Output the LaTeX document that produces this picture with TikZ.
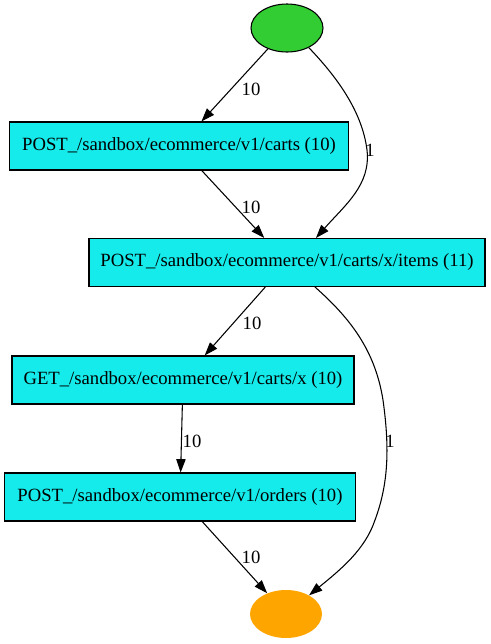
\documentclass[tikz,border=0pt]{standalone}
\usepackage{fontspec}
\setmainfont{Liberation Serif}
\usetikzlibrary{arrows.meta,positioning,calc,shapes.geometric}
\definecolor{FlowStart}{HTML}{32CD32}
\definecolor{FlowEnd}{HTML}{FFA500}
\definecolor{FlowBox}{HTML}{15EBEB}

\begin{document}
\begin{tikzpicture}[x=0.75pt,y=-0.75pt,>={Triangle[length=10pt,width=7pt]},
  font=\fontsize{14}{16}\selectfont,
  opbox/.style={draw=black,fill=FlowBox,line width=0.8pt,minimum height=36pt,inner sep=0pt},
  endpoint/.style={ellipse,minimum width=54pt,minimum height=36pt,inner sep=0pt},
  flow/.style={->,line width=0.8pt},
  count/.style={inner sep=1pt}]
  \useasboundingbox (0,0) rectangle (491,644);
  % Start and end.
  \node[endpoint,draw=black,fill=FlowStart,line width=0.8pt] (start) at (287,28) {};
  \node[endpoint,fill=FlowEnd] (finish) at (286,614) {};
  % Requests.
  \node[opbox,minimum width=254pt] (carts) at (179,146)
        {POST\_/sandbox/ecommerce/v1/carts (10)};
  \node[opbox,minimum width=297pt] (items) at (287,262.5)
        {POST\_/sandbox/ecommerce/v1/carts/x/items (11)};
  \node[opbox,minimum width=256.5pt] (getcart) at (183,380)
        {GET\_/sandbox/ecommerce/v1/carts/x (10)};
  \node[opbox,minimum width=263pt] (orders) at (180,497)
        {POST\_/sandbox/ecommerce/v1/orders (10)};
  % Straight transitions.
  \draw[flow] (start) -- (carts);
  \draw[flow] (carts) -- (items);
  \draw[flow] (items) -- (getcart);
  \draw[flow] (getcart) -- (orders);
  \draw[flow] (orders) -- (finish);
  % Curved transitions.
  \draw[flow] (start.-42) .. controls (335,75) and (362,110) .. (367,150)
        .. controls (371,185) and (345,205) .. ($(items.north)+(29,0)$);
  \draw[flow] ($(items.south)+(28,0)$) .. controls (350,318) and (375,350) .. (383,400)
        .. controls (390,450) and (388,485) .. (375,520)
        .. controls (365,550) and (340,570) .. (finish.39);
  % Counts.
  \node[count] (c1) at (251,89) {10};
  \node[count] (c2) at (370,150) {1};
  \node[count] (c3) at (251,207) {10};
  \node[count] (c4) at (252,323) {10};
  \node[count] (c5) at (192,441) {10};
  \node[count] (c6) at (390,441) {1};
  \node[count] (c7) at (251,557) {10};
\end{tikzpicture}
\end{document}
